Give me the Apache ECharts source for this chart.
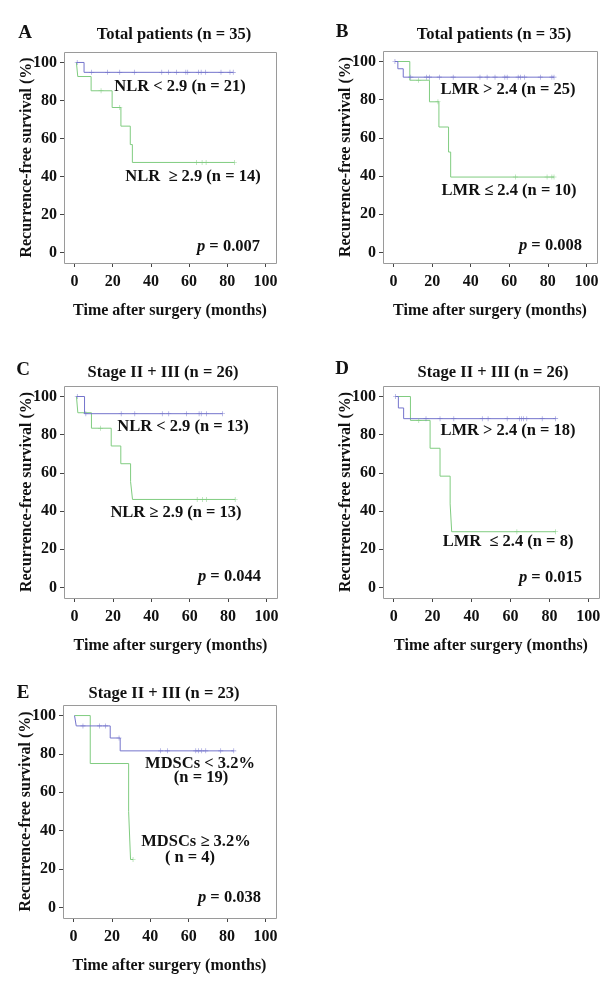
<!DOCTYPE html>
<html>
<head>
<meta charset="utf-8">
<script src="https://cdn.jsdelivr.net/npm/echarts@6/dist/echarts.min.js"></script>
<style>
html,body{margin:0;padding:0;background:#fff;}
#chart{width:616px;height:988px;}
</style>
</head>
<body>
<div id="chart"></div>
<script>
// ---------- data ----------
const xTicks = [0, 20, 40, 60, 80, 100];
const yTicks = [0, 20, 40, 60, 80, 100];
const xAxisName = 'Time after surgery (months)';
const yAxisName = 'Recurrence-free survival (%)';
const panelLetters = ['A', 'B', 'C', 'D', 'E'];
const panelTitles = ['Total patients (n = 35)', 'Total patients (n = 35)', 'Stage II + III (n = 26)', 'Stage II + III (n = 26)', 'Stage II + III (n = 23)'];
const pValues = ['0.007', '0.008', '0.044', '0.015', '0.038'];

// Panel A
const aHighTime = [1, 5, 83.1];
const aHighSurv = [100, 94.8, 94.8];
const aHighCensor = [1.4, 9, 17.3, 23.7, 31.3, 45.7, 49.2, 53.4, 58.3, 59.3, 64.9, 66.3, 68.7, 76.7, 81.4, 83.1];
const aLowTime = [1, 1.7, 8.7, 19.7, 24.3, 29.2, 30.3, 83.7];
const aLowSurv = [100, 92.6, 85.1, 76.3, 66.5, 56.8, 47.4, 47.4];
const aLowCensor = [13.9, 23.7, 63.9, 66.8, 68.9, 83.7];
const aLabels = ['NLR < 2.9 (n = 21)', 'NLR  \u2265 2.9 (n = 14)'];

// Panel B
const bHighTime = [0.7, 2.2, 5, 83.2];
const bHighSurv = [100, 96.2, 91.8, 91.8];
const bHighCensor = [0.7, 8.9, 17, 18.6, 23.7, 30.9, 44.8, 48.5, 52.6, 57.7, 58.9, 64.6, 65.8, 68, 76.1, 82.1, 83.2];
const bLowTime = [0.7, 8.4, 18.6, 23.5, 28.5, 29.6, 83.2];
const bLowSurv = [100, 90.2, 78.9, 65.7, 52.6, 39.5, 39.5];
const bLowCensor = [13, 23, 63.2, 79.6, 82.1, 83.2];
const bLabels = ['LMR > 2.4 (n = 25)', 'LMR \u2264 2.4 (n = 10)'];

// Panel C
const cHighTime = [1, 5.2, 77.1];
const cHighSurv = [100, 91, 91];
const cHighCensor = [1.4, 5.9, 24.3, 31.4, 45.7, 49.1, 58.3, 64.9, 66, 68.8, 77.1];
const cLowTime = [1, 1.7, 8.8, 19.1, 24.1, 29.2, 30.2, 83.7];
const cLowSurv = [100, 91.5, 83.4, 74.1, 64.8, 55.4, 46.1, 46.1];
const cLowCensor = [13.5, 63.9, 66.7, 68.8, 83.7];
const cLabels = ['NLR < 2.9 (n = 13)', 'NLR \u2265 2.9 (n = 13)'];

// Panel D
const dHighTime = [1, 2.4, 5.1, 83.2];
const dHighSurv = [100, 94, 88.4, 88.4];
const dHighCensor = [1, 16.6, 23.8, 30.9, 45.5, 48.5, 58.3, 64.7, 65.7, 66.7, 68.4, 76.3, 83.2];
const dLowTime = [1, 8.6, 18.7, 23.8, 29, 29.8, 83.2];
const dLowSurv = [100, 87.5, 72.9, 58.3, 43.8, 29.2, 29.2];
const dLowCensor = [12.9, 63.3, 83.2];
const dLabels = ['LMR > 2.4 (n = 18)', 'LMR  \u2264 2.4 (n = 8)'];

// Panel E
const eHighTime = [0.5, 1.4, 19.1, 24.3, 83.5];
const eHighSurv = [100, 94.6, 88.3, 81.6, 81.6];
const eHighCensor = [4.9, 13.6, 16.7, 23.7, 45.4, 48.9, 63.7, 65, 66.8, 68.9, 76.7, 83.5];
const eLowTime = [0.5, 8.7, 28.7, 29.7, 31];
const eLowSurv = [100, 75, 50, 25, 25];
const eLowCensor = [31];
const eLabels = ['MDSCs < 3.2%', '(n = 19)', 'MDSCs \u2265 3.2%', '( n = 4)'];

// ---------- layout / style ----------
const BLUE = '#7474cc';
const GREEN = '#80cc80';
const BORDER = '#9a9a9a';
const FONT = '"Liberation Serif", "Times New Roman", serif';
const PAD = 5.5;    // axis padding (in data units) between the 0..100 range and the frame
const SPAN = 100 + 2 * PAD;

const panels = [
  {hi: [aHighTime, aHighSurv, aHighCensor], lo: [aLowTime, aLowSurv, aLowCensor], labels: aLabels},
  {hi: [bHighTime, bHighSurv, bHighCensor], lo: [bLowTime, bLowSurv, bLowCensor], labels: bLabels},
  {hi: [cHighTime, cHighSurv, cHighCensor], lo: [cLowTime, cLowSurv, cLowCensor], labels: cLabels},
  {hi: [dHighTime, dHighSurv, dHighCensor], lo: [dLowTime, dLowSurv, dLowCensor], labels: dLabels},
  {hi: [eHighTime, eHighSurv, eHighCensor], lo: [eLowTime, eLowSurv, eLowCensor], labels: eLabels}
];

// frame boxes (pixels)
const boxes = [
  {left: 64, top: 52, width: 212, height: 211},
  {left: 383, top: 51, width: 214, height: 212},
  {left: 64, top: 386, width: 213, height: 212},
  {left: 383, top: 386, width: 216, height: 212},
  {left: 63, top: 705, width: 213, height: 213}
];
const letterPos = [[25, 33], [342, 32], [23, 370], [342, 369], [23, 693]];
const titlePos = [[174, 35], [494, 35], [163, 373], [493, 373], [164, 694]];
const labelPos = [
  [[180, 87], [193, 177]],
  [[508, 90], [509, 191]],
  [[183, 427], [176, 513]],
  [[508, 431], [508, 542]],
  [[200, 764], [201, 778], [196, 842], [190, 858]]
];
const pPos = [[260, 247], [582, 246], [261, 577], [582, 578], [261, 898]];

function survAt(times, surv, t) {
  let v = surv[0];
  for (let k = 0; k < times.length; k++) { if (times[k] <= t) v = surv[k]; }
  return v;
}

const chart = echarts.init(document.getElementById('chart'));
const gridOpts = [], xAxes = [], yAxes = [], series = [], graphics = [];
const plusPath = 'path://M4.4,0H5.6V10H4.4Z M0,4.4H10V5.6H0Z';
const axisFont = {color: '#111', fontFamily: FONT, fontWeight: 'bold', fontSize: 16};

panels.forEach((p, i) => {
  const b = boxes[i];
  const padX = b.width * PAD / SPAN, padY = b.height * PAD / SPAN;
  gridOpts.push({
    left: b.left + padX, top: b.top + padY,
    width: b.width * 100 / SPAN, height: b.height * 100 / SPAN, show: false
  });
  graphics.push({type: 'rect', silent: true, z: 1,
    shape: {x: b.left + 0.5, y: b.top + 0.5, width: b.width, height: b.height},
    style: {fill: 'none', stroke: BORDER, lineWidth: 1}});
  xAxes.push({
    type: 'value', gridIndex: i, min: xTicks[0], max: xTicks[xTicks.length - 1], interval: 20,
    position: 'bottom', offset: padY,
    axisLine: {show: false, onZero: false},
    axisTick: {show: true, length: 4, lineStyle: {color: '#444', width: 1}},
    axisLabel: Object.assign({margin: 11}, axisFont),
    splitLine: {show: false},
    name: xAxisName, nameLocation: 'middle', nameGap: 40, nameMoveOverlap: false,
    nameTextStyle: axisFont
  });
  yAxes.push({
    type: 'value', gridIndex: i, min: yTicks[0], max: yTicks[yTicks.length - 1], interval: 20,
    position: 'left', offset: padX,
    axisLine: {show: false, onZero: false},
    axisTick: {show: true, length: 4, lineStyle: {color: '#444', width: 1}},
    axisLabel: Object.assign({margin: 7}, axisFont),
    splitLine: {show: false},
    name: yAxisName, nameLocation: 'middle', nameGap: 29, nameMoveOverlap: false,
    nameTextStyle: axisFont
  });
  [[p.lo, GREEN], [p.hi, BLUE]].forEach(([g, col]) => {
    const [times, surv, cens] = g;
    series.push({
      type: 'line', xAxisIndex: i, yAxisIndex: i, step: 'end', showSymbol: false, silent: true, clip: false,
      lineStyle: {color: col, width: 1}, data: times.map((t, k) => [t, surv[k]]), animation: false, z: 2
    });
    series.push({
      type: 'scatter', xAxisIndex: i, yAxisIndex: i, symbol: plusPath, symbolSize: 5, silent: true, clip: false,
      itemStyle: {color: col}, data: cens.map(t => [t, survAt(times, surv, t)]), animation: false, z: 3
    });
  });
  graphics.push({type: 'text', x: letterPos[i][0], y: letterPos[i][1],
    style: {text: panelLetters[i], fill: '#111', font: 'bold 19px ' + FONT, align: 'center', verticalAlign: 'middle'}});
  graphics.push({type: 'text', x: titlePos[i][0], y: titlePos[i][1],
    style: {text: panelTitles[i], fill: '#111', font: 'bold 16.5px ' + FONT, align: 'center', verticalAlign: 'middle'}});
  p.labels.forEach((lab, k) => {
    graphics.push({type: 'text', x: labelPos[i][k][0], y: labelPos[i][k][1],
      style: {text: lab, fill: '#111', font: 'bold 16.5px ' + FONT, align: 'center', verticalAlign: 'middle'}});
  });
  graphics.push({type: 'text', x: pPos[i][0], y: pPos[i][1],
    style: {text: '{i|p} = ' + pValues[i], fill: '#111', font: 'bold 16.5px ' + FONT, align: 'right', verticalAlign: 'middle',
      rich: {i: {fontStyle: 'italic', fontWeight: 'bold', fontSize: 16.5, fontFamily: FONT, fill: '#111'}}}});
});

chart.setOption({
  animation: false,
  backgroundColor: '#fff',
  grid: gridOpts, xAxis: xAxes, yAxis: yAxes, series: series, graphic: graphics
});
</script>
</body>
</html>
